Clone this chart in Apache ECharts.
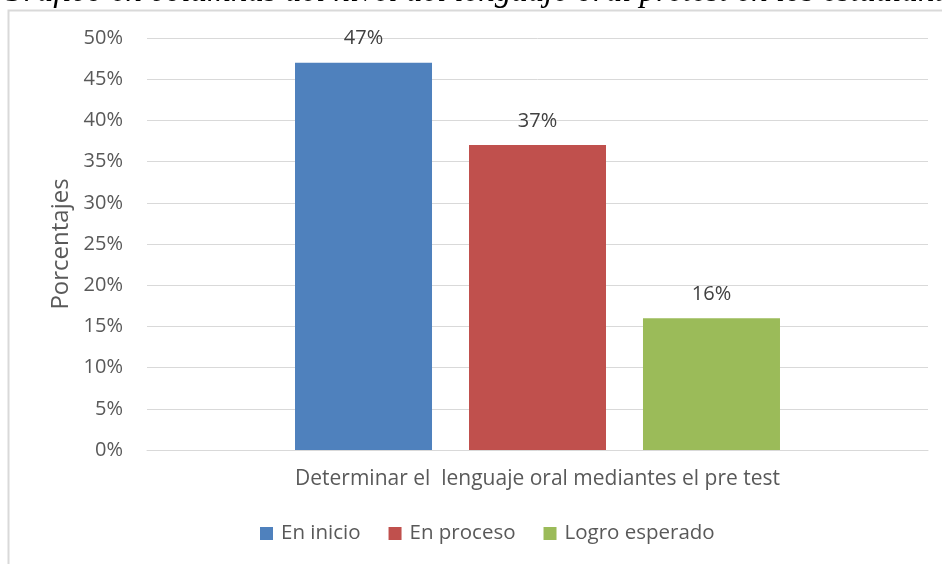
<!DOCTYPE html>
<html>
<head>
<meta charset="utf-8">
<script src="https://cdn.jsdelivr.net/npm/echarts@6/dist/echarts.min.js"></script>
<style>
  html, body { margin: 0; padding: 0; background: #fff; }
  #main { width: 942px; height: 564px; }
</style>
</head>
<body>
<div id="main"></div>
<script>
// datos
let categorias = ['Determinar el  lenguaje oral mediantes el pre test'];
let series = ['En inicio', 'En proceso', 'Logro esperado'];
let valores = [47, 37, 16];
let colores = ['#4F81BD', '#C0504D', '#9BBB59'];

let fuente = 'Open Sans';
let myChart = echarts.init(document.getElementById('main'));

myChart.setOption({
    animation: false,
    textStyle: { fontFamily: fuente },
    graphic: [
        {
            type: 'rect',
            shape: { x: 8.5, y: 10.5, width: 960, height: 600 },
            style: { fill: 'none', stroke: '#d9d9d9', lineWidth: 2 },
            silent: true
        },
        {
            type: 'text',
            left: 0,
            top: -24,
            style: {
                text: 'Gráfico en columnas del nivel del lenguaje oral pretest en los estudiantes',
                font: 'italic 33px "Liberation Serif"',
                fill: '#000'
            }
        }
    ],
    grid: { left: 147, right: 14, top: 38, bottom: 114 },
    legend: {
        bottom: 15,
        left: 255,
        itemWidth: 13,
        itemHeight: 13,
        itemGap: 28,
        icon: 'rect',
        textStyle: { color: '#595959', fontSize: 20.5, fontFamily: fuente, padding: [0, 0, 0, 3] },
        data: series
    },
    xAxis: {
        type: 'category',
        data: categorias,
        axisTick: { show: false },
        axisLine: { lineStyle: { color: '#d9d9d9', width: 1 } },
        axisLabel: { color: '#595959', fontSize: 21, margin: 19 }
    },
    yAxis: {
        type: 'value',
        min: 0,
        max: 50,
        interval: 5,
        name: 'Porcentajes',
        nameLocation: 'middle',
        nameGap: 71,
        nameTextStyle: { color: '#595959', fontSize: 24 },
        axisLine: { show: false },
        axisTick: { show: false },
        axisLabel: { formatter: '{value}%', color: '#595959', fontSize: 20, margin: 24 },
        splitLine: { lineStyle: { color: '#d9d9d9', width: 1 } }
    },
    series: series.map(function (nombre, i) {
        return {
            name: nombre,
            type: 'bar',
            barWidth: 137,
            barGap: '27%',
            itemStyle: { color: colores[i] },
            label: {
                show: true,
                position: 'top',
                distance: 14,
                formatter: '{c}%',
                color: '#404040',
                fontSize: 20
            },
            data: [valores[i]]
        };
    })
});
</script>
</body>
</html>
